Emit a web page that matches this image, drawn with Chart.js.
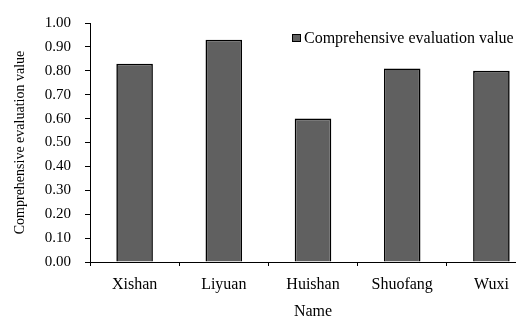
<!DOCTYPE html>
<html>
<head>
<meta charset="utf-8">
<script src="https://cdn.jsdelivr.net/npm/chart.js@4/dist/chart.umd.min.js"></script>
<style>
  html, body { margin: 0; padding: 0; background: #fff; overflow: hidden; width: 516px; height: 318px; }
  canvas { display: block; }
</style>
</head>
<body>
<canvas id="evalChart" width="540" height="322"></canvas>
<script>
const names = ['Xishan', 'Liyuan', 'Huishan', 'Shuofang', 'Wuxi'];
const evalValues = [0.83, 0.93, 0.60, 0.81, 0.80];
const seriesLabel = 'Comprehensive evaluation value';
const yTitle = 'Comprehensive evaluation value';
const xTitle = 'Name';

const serif = 'Liberation Serif';

// legend drawn inside the plot, top right
const boxLegend = {
    id: 'boxLegend',
    afterDraw(chart) {
        const ctx = chart.ctx;
        const ds = chart.data.datasets[0];
        ctx.save();
        ctx.font = `16px "${serif}"`;
        const w = ctx.measureText(ds.label).width;
        const right = chart.width - 26;
        const tx = Math.round(right - w);
        const cy = Math.round(chart.chartArea.top + 15);
        ctx.fillStyle = ds.backgroundColor;
        ctx.strokeStyle = '#000';
        ctx.lineWidth = 1;
        ctx.fillRect(tx - 12, cy - 4, 9, 8);
        ctx.strokeRect(tx - 11.5, cy - 3.5, 8, 7);
        ctx.fillStyle = '#000';
        ctx.textBaseline = 'middle';
        ctx.fillText(ds.label, tx, cy + 1);
        ctx.restore();
    }
};

new Chart(document.getElementById('evalChart'), {
    type: 'bar',
    data: {
        labels: names,
        datasets: [{
            label: seriesLabel,
            data: evalValues,
            backgroundColor: '#606060',
            borderColor: '#000',
            borderWidth: 1.6,
            categoryPercentage: 1,
            barPercentage: 0.41
        }]
    },
    options: {
        responsive: false,
        devicePixelRatio: 1,
        animation: false,
        layout: { padding: { top: 18, right: 4, left: 0, bottom: 0 } },
        plugins: { legend: { display: false }, tooltip: { enabled: false } },
        scales: {
            x: {
                afterFit(s) { s.height = 60; },
                grid: { offset: true, drawOnChartArea: false, drawTicks: true, tickLength: 4, color: '#000' },
                border: { color: '#000', width: 1 },
                ticks: { color: '#000', padding: 9, font: { family: serif, size: 16 } },
                title: { display: true, text: xTitle, color: '#000', padding: { top: 0, bottom: 1 }, font: { family: serif, size: 16 } }
            },
            y: {
                min: 0,
                max: 1,
                afterFit(s) { s.width = 90; },
                grid: { drawOnChartArea: false, drawTicks: true, tickLength: 5, color: '#000' },
                border: { color: '#000', width: 1 },
                ticks: {
                    stepSize: 0.1,
                    color: '#000',
                    padding: 14,
                    font: { family: serif, size: 15 },
                    callback: v => Number(v).toFixed(2)
                },
                title: { display: true, text: yTitle, color: '#000', padding: { top: 12, bottom: 0 }, font: { family: serif, size: 14 } }
            }
        }
    },
    plugins: [boxLegend]
});
</script>
</body>
</html>
